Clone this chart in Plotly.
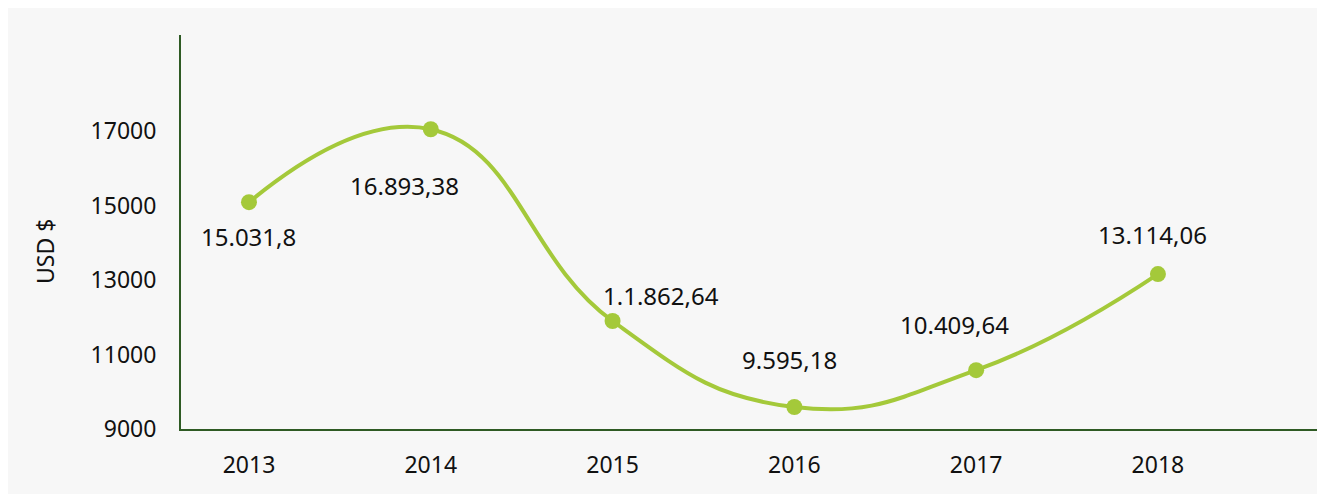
import plotly.graph_objects as go

years = [2013, 2014, 2015, 2016, 2017, 2018]
values = [15090, 17050, 11900, 9590, 10580, 13160]
labels = ["15.031,8", "16.893,38", "1.1.862,64", "9.595,18", "10.409,64", "13.114,06"]
label_dx = [0, -26, 48, -5, -22, -5]
label_dy = [-34, -56, 26, 48, 46, 40]
y_ticks = [9000, 11000, 13000, 15000, 17000]
y_ticktext = ["9000", "11000", "13000", "15000", "17000"]

W, H = 1317, 494
ML, MR, MT, MB = 181, 0, 35, 65
PW, PH = W - ML - MR, H - MT - MB

LINE = "#a4c93a"
AXIS = "#2e5a24"
FONT = "Noto Sans"
TXT = "#111111"


def fx(p):
    return (p - ML) / PW


def fy(p):
    return (H - MB - p) / PH


fig = go.Figure()
fig.add_trace(go.Scatter(
    x=years, y=values, mode="lines+markers",
    line=dict(color=LINE, width=4, shape="spline", smoothing=1.3),
    marker=dict(color=LINE, size=16),
    hoverinfo="skip", showlegend=False,
))

for x, y, t, dx, dy in zip(years, values, labels, label_dx, label_dy):
    fig.add_annotation(x=x, y=y, text=t, showarrow=False,
                       xshift=dx, yshift=dy,
                       font=dict(family=FONT, size=24, color=TXT))

fig.add_annotation(xref="paper", yref="paper", x=fx(45), y=fy(252),
                   text="USD $", textangle=-90, showarrow=False,
                   xanchor="center", yanchor="middle",
                   font=dict(family=FONT, size=23, color=TXT))

fig.add_shape(type="rect", xref="paper", yref="paper",
              x0=fx(8), x1=fx(W + 20), y0=fy(H + 20), y1=fy(8),
              fillcolor="#f7f7f7", line=dict(width=0), layer="below")

fig.update_layout(
    width=W, height=H,
    margin=dict(l=ML, r=MR, t=MT, b=MB),
    paper_bgcolor="white", plot_bgcolor="rgba(0,0,0,0)",
    font=dict(family=FONT, size=23, color=TXT),
    xaxis=dict(range=[2012.626, 2018.875], tickvals=years,
               ticktext=[str(y) for y in years],
               showgrid=False, zeroline=False,
               showline=True, linecolor=AXIS, linewidth=2,
               ticks="", ticklabelstandoff=14),
    yaxis=dict(range=[9000, 19580], tickvals=y_ticks, ticktext=y_ticktext,
               showgrid=False, zeroline=False,
               showline=True, linecolor=AXIS, linewidth=2,
               ticks="", ticklabelstandoff=18),
)

fig.write_html(
    "out.html",
    config={"displayModeBar": False},
    post_script="document.body.style.margin='0';document.documentElement.style.overflow='hidden';",
)
